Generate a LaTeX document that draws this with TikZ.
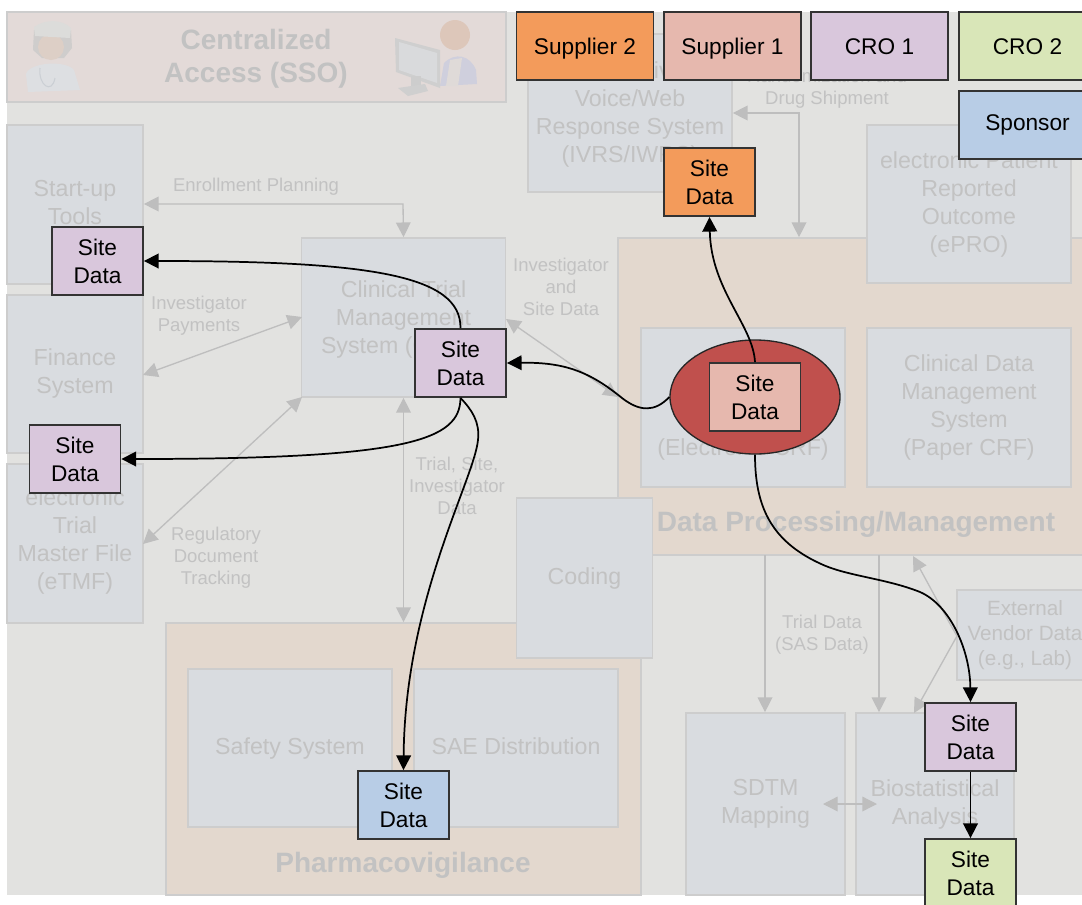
\documentclass[tikz,border=0pt]{standalone}
\usepackage{fontspec}
\setmainfont{Liberation Sans}
\usetikzlibrary{arrows.meta,shapes.geometric}
\definecolor{bgc}{HTML}{E2E2E0}
\definecolor{sysfill}{HTML}{D9DCE0}
\definecolor{sysline}{HTML}{CDCDCD}
\definecolor{peach}{HTML}{E3D8CE}
\definecolor{ssofill}{HTML}{E3DAD8}
\definecolor{gtext}{HTML}{C2C2C2}
\definecolor{gline}{HTML}{BEBEBE}
\definecolor{cpurple}{HTML}{D9C7DC}
\definecolor{corange}{HTML}{F39B5B}
\definecolor{cpink}{HTML}{E6B8AE}
\definecolor{cgreen}{HTML}{D9E6B8}
\definecolor{cblue}{HTML}{B8CDE6}
\definecolor{cred}{HTML}{C0504D}
\definecolor{cedge}{HTML}{333333}
\definecolor{icoa}{HTML}{DDDFE2}
\definecolor{icob}{HTML}{CFCDCC}
\definecolor{icoc}{HTML}{DDCFC6}
\definecolor{icod}{HTML}{DCDCDA}
\definecolor{icoe}{HTML}{CBCFD4}
\definecolor{icof}{HTML}{DDC7BA}
\definecolor{icog}{HTML}{CFCFDD}
\definecolor{icoh}{HTML}{DFDAD8}
\definecolor{icoi}{HTML}{CFCFCF}
\definecolor{icoj}{HTML}{D9DADC}
\tikzset{
  wh/.style 2 args={minimum width=#1*0.75pt,minimum height=#2*0.75pt},
  sysbox/.style={draw=sysline,fill=sysfill,line width=1.3pt,inner sep=0pt,align=center,text=gtext,font=\fontsize{17.4}{21}\selectfont},
  systext/.style={inner sep=0pt,align=center,text=gtext,font=\fontsize{17.4}{21}\selectfont},
  areabox/.style={draw=sysline,fill=peach,line width=1.3pt,inner sep=0pt},
  smalllab/.style={inner sep=0pt,align=center,text=gtext,font=\fontsize{13.9}{16.5}\selectfont},
  boldlab/.style={inner sep=0pt,align=center,text=gtext,font=\fontsize{21}{24.75}\selectfont\bfseries},
  tag/.style={draw=cedge,line width=1.4pt,inner sep=0pt,align=center,text=black,font=\fontsize{17}{21}\selectfont},
  site/.style={tag,wh={91}{68}},
  org/.style={tag,wh={137}{68},text height=12.2pt,text depth=0pt},
  gboth/.style={draw=gline,line width=1pt,{Triangle[length=11pt,width=11pt,gline]}-{Triangle[length=11pt,width=11pt,gline]}},
  gone/.style={draw=gline,line width=1pt,-{Triangle[length=11pt,width=11pt,gline]}},
  flow/.style={draw=black,line width=1.3pt,-{Triangle[length=11pt,width=11pt]}}
}
\begin{document}
\begin{tikzpicture}[x=0.75pt,y=-0.75pt]
\clip (0,0) rectangle (1082,904);
\fill[white] (0,0) rectangle (1082,904);
\fill[bgc] (7,12) rectangle (1082,895);

% large areas
\node[draw=sysline,fill=ssofill,line width=1.3pt,inner sep=0pt,wh={499}{90}] (sso) at (256.5,57) {};
\node[areabox,wh={472}{317}] (dpm) at (854,396.5) {};
\node[areabox,wh={475}{272}] (pv) at (403.5,759) {};

% faded figures in the access bar
\fill[icoa] (28,92) -- (26,74) .. controls (30,62) and (66,60) .. (74,70) -- (80,90) -- cycle;
\fill[icob] (34,30) -- (33,50) -- (42,58) -- (64,58) -- (72,48) -- (71,30) -- cycle;
\fill[icoc] (51,47) circle (13);
\fill[icod] (34,27) .. controls (45,19) and (62,19) .. (71,28) -- (70,38) -- (35,36) -- cycle;
\draw[icoe,line width=0.8pt] (40,68) .. controls (38,85) and (52,95) .. (55,78);
\fill[icof] (455,35) circle (15);
\fill[icog] (440,86) -- (444,63) .. controls (455,52) and (470,55) .. (476,70) -- (477,84) -- cycle;
\fill[icoh] (446,86) -- (450,60) -- (462,58) -- (458,86) -- cycle;
\fill[icoi] (395,38) -- (440,50) -- (440,88) -- (396,72) -- cycle;
\fill[icoj] (399,42) -- (437,53) -- (437,83) -- (399,70) -- cycle;
\fill[sysline] (411,76) rectangle (421,88);
\fill[icoi] (398,88) -- (425,84) -- (428,91) -- (408,96) -- cycle;

\node[boldlab] (ssol) at (256,59) {Centralized\\Access (SSO)};

% system boxes
\node[sysbox,wh={136}{159}] (startup) at (75,204.5) {};
\node[systext] (startupl) at (75,202.5) {Start-up\\Tools};
\node[sysbox,wh={136}{158}] (finance) at (75,374) {};
\node[systext] (financel) at (75,373) {Finance\\System};
\node[sysbox,wh={136}{159}] (etmf) at (75,543.5) {};
\node[systext] (etmfl) at (75,541.5) {electronic\\Trial\\Master File\\(eTMF)};
\node[sysbox,wh={204}{159}] (ctms) at (403.5,317.5) {};
\node[systext] (ctmsl) at (403.5,319) {Clinical Trial\\Management\\System (CTMS)};
\node[sysbox,wh={204}{158}] (ivrs) at (630,113) {};
\node[systext] (ivrsl) at (630,114.5) {Interactive\\Voice/Web\\Response System\\(IVRS/IWRS)};
\node[sysbox,wh={204}{158}] (epro) at (969,204) {electronic Patient\\Reported\\Outcome\\(ePRO)};
\node[sysbox,wh={204}{159}] (edc) at (743,407.5) {Electronic\\Data\\Capture\\(Electronic CRF)};
\node[sysbox,wh={204}{159}] (cdm) at (969,407.5) {Clinical Data\\Management\\System\\(Paper CRF)};
\node[boldlab] (dpml) at (856,524) {Data Processing/Management};
\node[sysbox,wh={136}{160}] (coding) at (584.5,578) {Coding};
\node[sysbox,wh={204}{158},text height=12.5pt,text depth=3.5pt] (safety) at (290,748) {Safety System};
\node[sysbox,wh={204}{158},text height=12.5pt,text depth=3.5pt] (sae) at (516,748) {SAE Distribution};
\node[boldlab] (pvl) at (403,865) {Pharmacovigilance};
\node[sysbox,wh={159}{182}] (sdtm) at (765.5,804) {SDTM\\Mapping};
\node[sysbox,wh={158}{182}] (bio) at (935,804) {Biostatistical\\Analysis};
\node[sysbox,wh={136}{90},font=\fontsize{15.5}{19}\selectfont] (ext) at (1025,635) {External\\Vendor Data\\(e.g., Lab)};

% gray connectors
\coordinate (enr) at (403,204);
\draw[gboth] (startup.east |- enr) -- (enr) -- (ctms.north);
\coordinate (ctmsw) at (302,317);
\coordinate (finr) at (143,375);
\draw[gboth] (finr) -- (ctmsw);
\coordinate (ctmssw) at (302,397);
\coordinate (etmfe) at (143,544);
\draw[gboth] (etmfe) -- (ctmssw);
\draw[gboth] (ctms.south) -- (ctms.south |- pv.north);
\coordinate (ctmse) at (506,319);
\coordinate (dpmw) at (618,397);
\draw[gboth] (ctmse) -- (dpmw);
\coordinate (dsh) at (799,113);
\draw[gboth] (ivrs.east |- dsh) -- (dsh) -- (dsh |- dpm.north);
\coordinate (t1) at (765,555);
\coordinate (t2) at (879,555);
\draw[gone] (t1) -- (t1 |- sdtm.north);
\draw[gone] (t2) -- (t2 |- bio.north);
\coordinate (extw) at (957,636);
\coordinate (dpmb) at (913,556);
\coordinate (biot) at (914,713);
\draw[gone] (extw) -- (949,622) -- (dpmb);
\draw[gone] (extw) -- (biot);
\coordinate (sl) at (823,804);
\coordinate (sr) at (877,804);
\draw[gboth] (sl) -- (sr);

% gray labels
\node[smalllab] (l1) at (256,187) {Enrollment Planning};
\node[smalllab] (l2) at (199,316) {Investigator\\Payments};
\node[smalllab] (l3) at (561,286.5) {Investigator\\and\\Site Data};
\node[smalllab] (l4) at (216,558) {Regulatory\\Document\\Tracking};
\node[smalllab] (l5) at (457,486) {Trial, Site,\\Investigator\\Data};
\node[smalllab] (l6) at (827,89) {Randomization and\\Drug Shipment};
\node[smalllab] (l7) at (822,635) {Trial Data\\(SAS Data)};

% legend
\node[org,fill=corange] (sup2) at (585,46) {Supplier 2};
\node[org,fill=cpink] (sup1) at (732.5,46) {Supplier 1};
\node[org,fill=cpurple] (cro1) at (879.5,46) {CRO 1};
\node[org,fill=cgreen] (cro2) at (1027.5,46) {CRO 2};
\node[org,fill=cblue,text depth=3.3pt] (spon) at (1027.5,125) {Sponsor};

% red ellipse and site data
\node[ellipse,draw=black!85,fill=cred,line width=1pt,inner sep=0pt,wh={170}{114}] (hub) at (755,397) {};
\node[site,fill=cpink] (s0) at (755,397) {Site\\Data};
\node[site,fill=corange] (s1) at (709.5,182) {Site\\Data};
\node[site,fill=cpurple] (s2) at (460.5,363) {Site\\Data};
\node[site,fill=cpurple] (s3) at (97.5,261) {Site\\Data};
\node[site,fill=cpurple] (s4) at (75,459) {Site\\Data};
\node[site,fill=cblue] (s5) at (403.5,805) {Site\\Data};
\node[site,fill=cpurple] (s6) at (970.5,737) {Site\\Data};
\node[site,fill=cgreen] (s7) at (970.5,873) {Site\\Data};

% site data flows
\draw[flow] (hub.west) .. controls (655,412) and (640,412) .. (622,398)
  .. controls (590,372) and (565,362) .. (s2.east);
\draw[flow] (s0.north) .. controls (753,325) and (711,290) .. (s1.south);
\draw[flow] (hub.south) .. controls (755,505) and (770,540) .. (819,563)
  .. controls (845,576) and (885,578) .. (920,592)
  .. controls (950,605) and (970,650) .. (s6.north);
\draw[flow] (s6.south) -- (s7.north);
\draw[flow] (s2.north) .. controls (461,275) and (370,261) .. (s3.east);
\draw[flow] (s2.south) .. controls (460,440) and (410,459) .. (s4.east);
\draw[flow] (s2.south) .. controls (472,410) and (480,422) .. (478,440)
  .. controls (474,480) and (405,600) .. (s5.north);
\end{tikzpicture}
\end{document}
